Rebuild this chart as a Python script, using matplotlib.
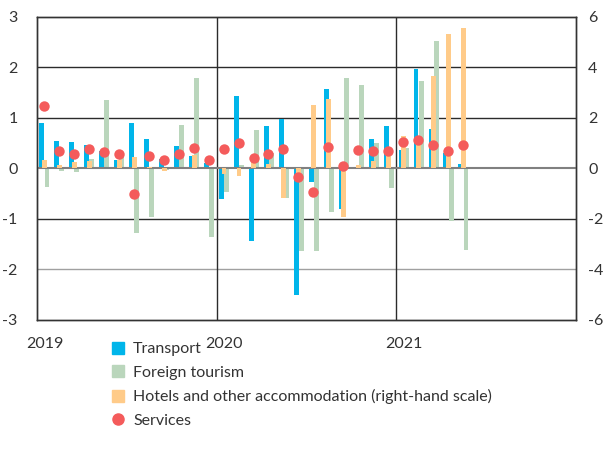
import matplotlib

matplotlib.use("Agg")

import matplotlib.pyplot as plt
import numpy as np
from matplotlib.lines import Line2D

# Monthly contributions, Jan 2019 - May 2021
transport = [
    0.89, 0.54, 0.53, 0.46, 0.34, 0.17, 0.89, 0.59, 0.19, 0.44, 0.24, 0.11,
    -0.61, 1.43, -1.44, 0.83, 0.97, -2.51, -0.27, 1.57, -0.81, -0.02, 0.59, 0.83,
    0.37, 1.97, 0.77, 0.31, 0.08,
]
foreign_tourism = [
    -0.36, -0.05, -0.08, 0.19, 1.35, 0.24, -1.28, -0.96, -0.03, 0.85, 1.79, -1.35,
    -0.46, 0.06, 0.75, 0.31, -0.58, -1.64, -1.63, -0.86, 1.78, 1.65, 0.51, -0.38,
    0.40, 1.73, 2.53, -1.04, -1.61,
]
# right-hand scale
hotels = [
    0.35, 0.15, 0.24, 0.31, 0.02, 0.32, 0.43, 0.05, -0.12, 0.02, 0.52, 0.02,
    -0.23, -0.32, 0.24, 0.17, -1.16, -0.20, 2.52, 2.73, -1.93, 0.15, 0.30, 0.61,
    1.28, 1.00, 3.64, 5.31, 5.55,
]
services = [
    1.23, 0.35, 0.29, 0.38, 0.32, 0.29, -0.51, 0.25, 0.17, 0.29, 0.41, 0.17,
    0.38, 0.51, 0.21, 0.29, 0.38, -0.18, -0.47, 0.43, 0.04, 0.36, 0.35, 0.34,
    0.52, 0.57, 0.47, 0.35, 0.47,
]
years = ["2019", "2020", "2021"]

BLUE = "#00B5EA"
GREEN = "#BAD6BC"
ORANGE = "#FFCB89"
RED = "#F45B5B"
GRID = "#2b2b2b"

plt.rcParams["font.family"] = ["Lato", "DejaVu Sans"]
plt.rcParams["text.color"] = "#333333"
plt.rcParams["axes.unicode_minus"] = False

fig = plt.figure(figsize=(6.06, 4.55), dpi=100)
ax = fig.add_axes([0.061, 0.297, 0.889, 0.666])
ax2 = ax.twinx()

x = np.arange(len(transport))
w = 0.33
ax.bar(x + 0.33, transport, width=w, color=BLUE, zorder=3)
ax.bar(x + 0.67, foreign_tourism, width=w, color=GREEN, zorder=3)
ax2.bar(x + 0.50, hotels, width=w, color=ORANGE, zorder=3)
ax2.plot(x + 0.47, np.array(services) * 2, "o", color=RED, markersize=7.5,
         markeredgewidth=0, zorder=5)

ax.set_zorder(1)
ax2.set_zorder(2)
ax2.patch.set_visible(False)

ax.set_xlim(0, 36)
ax.set_ylim(-3, 3)
ax2.set_ylim(-6, 6)

# horizontal grid and year separators
for v in [-2, -1, 1, 2]:
    ax.axhline(v, color=GRID if v != -2 else "#a0a0a0", lw=1, zorder=1)
ax.axhline(0, color="#808080", lw=1.5, zorder=4)
for yr in [12, 24]:
    ax.axvline(yr, color=GRID, lw=1, zorder=1)

ax.set_yticks(range(-3, 4))
ax2.set_yticks(range(-6, 7, 2))
ax.set_xticks([0.5, 12.5, 24.5])
ax.set_xticklabels(years)

for a in (ax, ax2):
    a.tick_params(length=0, labelsize=11.5, colors="#333333")
    for s in a.spines.values():
        s.set_color("#333333")
        s.set_linewidth(1)
ax.tick_params(axis="x", pad=12)
ax.tick_params(axis="y", pad=14)
ax2.tick_params(axis="y", pad=9)

handles = [
    Line2D([], [], ls="", marker="s", markersize=8, color=BLUE),
    Line2D([], [], ls="", marker="s", markersize=8, color=GREEN),
    Line2D([], [], ls="", marker="s", markersize=8, color=ORANGE),
    Line2D([], [], ls="", marker="o", markersize=8, color=RED),
]
labels = [
    "Transport",
    "Foreign tourism",
    "Hotels and other accommodation (right-hand scale)",
    "Services",
]
fig.legend(handles, labels, loc="upper left", bbox_to_anchor=(0.184, 0.248),
           frameon=False, fontsize=11.5, handlelength=0.8, handletextpad=0.55,
           labelspacing=0.58, borderpad=0, borderaxespad=0)

fig.savefig("out.png", dpi=100)
